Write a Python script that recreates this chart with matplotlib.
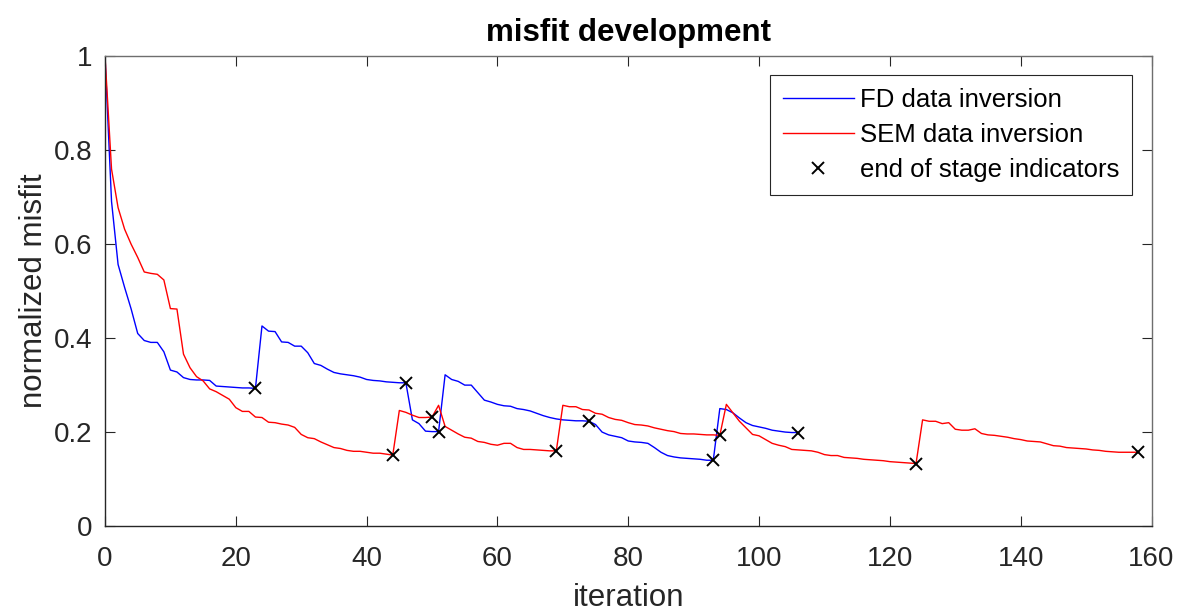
import numpy as np
import matplotlib
matplotlib.use("Agg")
import matplotlib.pyplot as plt

# normalized misfit per iteration, FD synthetic data inversion
fd_misfit = [
    1.000, 0.690, 0.556, 0.507, 0.461, 0.409, 0.394, 0.390, 0.390, 0.370,
    0.331, 0.327, 0.315, 0.311, 0.310, 0.310, 0.309, 0.297, 0.296, 0.295,
    0.294, 0.293, 0.293, 0.292, 0.425, 0.414, 0.413, 0.391, 0.390, 0.382,
    0.382, 0.368, 0.345, 0.341, 0.333, 0.326, 0.323, 0.321, 0.319, 0.316,
    0.311, 0.309, 0.308, 0.306, 0.305, 0.304, 0.304, 0.225, 0.217, 0.201,
    0.200, 0.200, 0.321, 0.311, 0.307, 0.299, 0.299, 0.283, 0.267, 0.263,
    0.258, 0.255, 0.254, 0.249, 0.247, 0.244, 0.239, 0.234, 0.230, 0.227,
    0.225, 0.224, 0.223, 0.223, 0.222, 0.215, 0.199, 0.193, 0.190, 0.187,
    0.180, 0.178, 0.177, 0.175, 0.166, 0.156, 0.149, 0.146, 0.144, 0.143,
    0.142, 0.141, 0.139, 0.139, 0.249, 0.247, 0.240, 0.229, 0.219, 0.213,
    0.210, 0.207, 0.203, 0.201, 0.199, 0.198, 0.198,
]

# normalized misfit per iteration, SEM synthetic data inversion
sem_misfit = [
    1.000, 0.759, 0.677, 0.631, 0.599, 0.571, 0.540, 0.537, 0.535, 0.523,
    0.462, 0.461, 0.365, 0.336, 0.317, 0.308, 0.291, 0.285, 0.277, 0.269,
    0.251, 0.243, 0.243, 0.231, 0.230, 0.220, 0.219, 0.216, 0.214, 0.209,
    0.194, 0.187, 0.185, 0.178, 0.172, 0.166, 0.164, 0.160, 0.158, 0.158,
    0.156, 0.154, 0.154, 0.152, 0.150, 0.245, 0.241, 0.235, 0.230, 0.230,
    0.231, 0.256, 0.211, 0.203, 0.195, 0.188, 0.186, 0.179, 0.177, 0.173,
    0.171, 0.175, 0.175, 0.166, 0.162, 0.162, 0.161, 0.160, 0.159, 0.159,
    0.256, 0.253, 0.253, 0.247, 0.246, 0.239, 0.237, 0.230, 0.226, 0.224,
    0.219, 0.215, 0.214, 0.212, 0.208, 0.205, 0.202, 0.200, 0.196, 0.195,
    0.195, 0.194, 0.193, 0.193, 0.192, 0.258, 0.240, 0.222, 0.208, 0.194,
    0.191, 0.183, 0.175, 0.171, 0.168, 0.162, 0.161, 0.160, 0.159, 0.156,
    0.151, 0.149, 0.149, 0.145, 0.144, 0.143, 0.141, 0.140, 0.139, 0.138,
    0.136, 0.135, 0.134, 0.133, 0.132, 0.225, 0.222, 0.222, 0.217, 0.219,
    0.205, 0.203, 0.203, 0.206, 0.196, 0.193, 0.192, 0.190, 0.188, 0.185,
    0.183, 0.180, 0.179, 0.178, 0.174, 0.170, 0.169, 0.166, 0.165, 0.164,
    0.163, 0.161, 0.160, 0.158, 0.157, 0.156, 0.156, 0.156, 0.156,
]

# last iteration of each inversion stage
fd_stage_ends = [23, 46, 51, 74, 93, 106]
sem_stage_ends = [44, 50, 69, 94, 124, 158]

x_ticks = [0, 20, 40, 60, 80, 100, 120, 140, 160]
y_ticks = [0, 0.2, 0.4, 0.6, 0.8, 1.0]
y_tick_labels = ["0", "0.2", "0.4", "0.6", "0.8", "1"]

AX_COLOR = "#262626"


def main():
    plt.rcParams["font.family"] = ["Liberation Sans", "DejaVu Sans"]

    fd = np.array(fd_misfit)
    sem = np.array(sem_misfit)
    fd_it = np.arange(len(fd))
    sem_it = np.arange(len(sem))

    stage_it = np.concatenate([fd_it[fd_stage_ends], sem_it[sem_stage_ends]])
    stage_val = np.concatenate([fd[fd_stage_ends], sem[sem_stage_ends]])

    fig = plt.figure(figsize=(11.8, 6.16), dpi=100)
    ax = fig.add_axes([105 / 1180, 1 - 525.5 / 616, (1151.5 - 105) / 1180, (525.5 - 56) / 616])

    ax.plot(fd_it, fd, color="#0000ff", lw=1.0, label="FD data inversion")
    ax.plot(sem_it, sem, color="#ff0000", lw=1.0, label="SEM data inversion")
    ax.plot(stage_it, stage_val, "x", color="black", ms=8.5, mew=1.4,
            label="end of stage indicators")

    ax.set_xlim(0, 160)
    ax.set_ylim(0, 1)
    ax.set_xticks(x_ticks)
    ax.set_yticks(y_ticks)
    ax.set_yticklabels(y_tick_labels)

    ax.tick_params(direction="in", length=7.5, width=0.8, color=AX_COLOR,
                   labelcolor=AX_COLOR, labelsize=20, top=True, right=True)
    ax.tick_params(axis="x", pad=15)
    ax.tick_params(axis="y", pad=9)
    for side in ["left", "bottom"]:
        ax.spines[side].set_color(AX_COLOR)
        ax.spines[side].set_linewidth(1.0)
    for side in ["top", "right"]:
        ax.spines[side].set_color("#6e6e6e")
        ax.spines[side].set_linewidth(1.0)

    ax.set_title("misfit development", fontsize=22.5, fontweight="bold", pad=11)
    ax.set_xlabel("iteration", fontsize=22.5, color=AX_COLOR, labelpad=8)
    ax.set_ylabel("normalized misfit", fontsize=22.5, color=AX_COLOR, labelpad=3.5)

    leg = ax.legend(loc="upper right", fontsize=18.5, handlelength=2.75,
                    handletextpad=0.25, labelspacing=0.42, borderpad=0.5,
                    borderaxespad=0.75, fancybox=False, framealpha=1.0,
                    edgecolor=AX_COLOR)
    leg.get_frame().set_linewidth(0.8)

    fig.savefig("out.png", dpi=100)
    plt.close(fig)


if __name__ == "__main__":
    main()
